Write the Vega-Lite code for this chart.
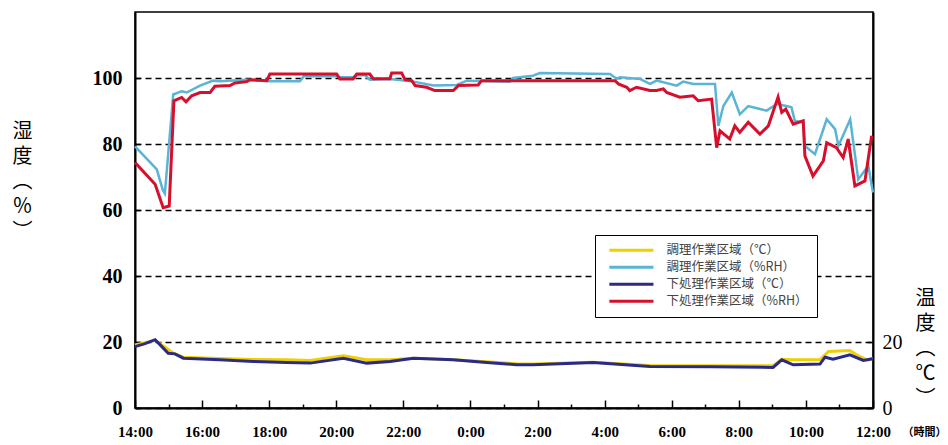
{
  "$schema": "https://vega.github.io/schema/vega-lite/v6.json",
  "width": 738,
  "height": 396,
  "autosize": {"type": "none"},
  "padding": {"left": 135, "top": 12, "right": 75, "bottom": 37},
  "background": "white",
  "config": {
    "view": {"stroke": "black", "strokeWidth": 1.5},
    "axis": {"domainColor": "black", "domainWidth": 2, "tickColor": "black", "tickWidth": 1.5, "labelColor": "black", "titleColor": "black"}
  },
  "datasets": {
    "d": [
      {"s": "調理作業区域（℃）", "h": 14.0, "v": 19.1},
      {"s": "調理作業区域（℃）", "h": 14.6, "v": 20.5},
      {"s": "調理作業区域（℃）", "h": 14.94, "v": 18.1},
      {"s": "調理作業区域（℃）", "h": 15.13, "v": 16.7},
      {"s": "調理作業区域（℃）", "h": 15.44, "v": 15.4},
      {"s": "調理作業区域（℃）", "h": 16.5, "v": 15.0},
      {"s": "調理作業区域（℃）", "h": 17.52, "v": 14.7},
      {"s": "調理作業区域（℃）", "h": 18.5, "v": 14.6},
      {"s": "調理作業区域（℃）", "h": 19.22, "v": 14.4},
      {"s": "調理作業区域（℃）", "h": 20.21, "v": 15.8},
      {"s": "調理作業区域（℃）", "h": 20.91, "v": 14.6},
      {"s": "調理作業区域（℃）", "h": 21.6, "v": 14.6},
      {"s": "調理作業区域（℃）", "h": 22.3, "v": 15.1},
      {"s": "調理作業区域（℃）", "h": 23.49, "v": 14.6},
      {"s": "調理作業区域（℃）", "h": 24.48, "v": 14.0},
      {"s": "調理作業区域（℃）", "h": 25.38, "v": 13.4},
      {"s": "調理作業区域（℃）", "h": 25.87, "v": 13.3},
      {"s": "調理作業区域（℃）", "h": 27.66, "v": 13.9},
      {"s": "調理作業区域（℃）", "h": 29.35, "v": 12.9},
      {"s": "調理作業区域（℃）", "h": 31.2, "v": 12.8},
      {"s": "調理作業区域（℃）", "h": 33.02, "v": 12.8},
      {"s": "調理作業区域（℃）", "h": 33.28, "v": 14.8},
      {"s": "調理作業区域（℃）", "h": 33.58, "v": 14.6},
      {"s": "調理作業区域（℃）", "h": 34.42, "v": 14.6},
      {"s": "調理作業区域（℃）", "h": 34.67, "v": 17.1},
      {"s": "調理作業区域（℃）", "h": 35.31, "v": 17.4},
      {"s": "調理作業区域（℃）", "h": 35.51, "v": 16.1},
      {"s": "調理作業区域（℃）", "h": 35.81, "v": 14.6},
      {"s": "調理作業区域（℃）", "h": 36.0, "v": 15.0},

      {"s": "調理作業区域（%RH）", "h": 14.0, "v": 79.3},
      {"s": "調理作業区域（%RH）", "h": 14.65, "v": 72.3},
      {"s": "調理作業区域（%RH）", "h": 14.83, "v": 66},
      {"s": "調理作業区域（%RH）", "h": 14.89, "v": 65},
      {"s": "調理作業区域（%RH）", "h": 15.14, "v": 95},
      {"s": "調理作業区域（%RH）", "h": 15.39, "v": 96},
      {"s": "調理作業区域（%RH）", "h": 15.54, "v": 95.6},
      {"s": "調理作業区域（%RH）", "h": 15.94, "v": 97.7},
      {"s": "調理作業区域（%RH）", "h": 16.33, "v": 99.2},
      {"s": "調理作業区域（%RH）", "h": 16.53, "v": 99},
      {"s": "調理作業区域（%RH）", "h": 17.33, "v": 99.5},
      {"s": "調理作業区域（%RH）", "h": 18.02, "v": 99},
      {"s": "調理作業区域（%RH）", "h": 18.92, "v": 99},
      {"s": "調理作業区域（%RH）", "h": 19.03, "v": 100.5},
      {"s": "調理作業区域（%RH）", "h": 20.01, "v": 100.5},
      {"s": "調理作業区域（%RH）", "h": 20.11, "v": 100.2},
      {"s": "調理作業区域（%RH）", "h": 20.5, "v": 100.2},
      {"s": "調理作業区域（%RH）", "h": 20.61, "v": 100.8},
      {"s": "調理作業区域（%RH）", "h": 20.86, "v": 100.8},
      {"s": "調理作業区域（%RH）", "h": 21.0, "v": 99.5},
      {"s": "調理作業区域（%RH）", "h": 21.6, "v": 99.7},
      {"s": "調理作業区域（%RH）", "h": 22.3, "v": 98.9},
      {"s": "調理作業区域（%RH）", "h": 22.9, "v": 97.7},
      {"s": "調理作業区域（%RH）", "h": 23.59, "v": 97.9},
      {"s": "調理作業区域（%RH）", "h": 23.89, "v": 99.2},
      {"s": "調理作業区域（%RH）", "h": 25.18, "v": 98.9},
      {"s": "調理作業区域（%RH）", "h": 25.27, "v": 100},
      {"s": "調理作業区域（%RH）", "h": 25.86, "v": 100.7},
      {"s": "調理作業区域（%RH）", "h": 26.07, "v": 101.5},
      {"s": "調理作業区域（%RH）", "h": 28.16, "v": 101.2},
      {"s": "調理作業区域（%RH）", "h": 28.36, "v": 99.8},
      {"s": "調理作業区域（%RH）", "h": 28.46, "v": 100.2},
      {"s": "調理作業区域（%RH）", "h": 29.05, "v": 99.7},
      {"s": "調理作業区域（%RH）", "h": 29.35, "v": 98.2},
      {"s": "調理作業区域（%RH）", "h": 29.55, "v": 99.2},
      {"s": "調理作業区域（%RH）", "h": 30.15, "v": 97.7},
      {"s": "調理作業区域（%RH）", "h": 30.34, "v": 98.9},
      {"s": "調理作業区域（%RH）", "h": 30.64, "v": 98.2},
      {"s": "調理作業区域（%RH）", "h": 31.29, "v": 98.2},
      {"s": "調理作業区域（%RH）", "h": 31.39, "v": 85.5},
      {"s": "調理作業区域（%RH）", "h": 31.54, "v": 91.5},
      {"s": "調理作業区域（%RH）", "h": 31.79, "v": 95.6},
      {"s": "調理作業区域（%RH）", "h": 32.03, "v": 89},
      {"s": "調理作業区域（%RH）", "h": 32.28, "v": 91.5},
      {"s": "調理作業区域（%RH）", "h": 32.63, "v": 90.6},
      {"s": "調理作業区域（%RH）", "h": 32.83, "v": 90.1},
      {"s": "調理作業区域（%RH）", "h": 33.13, "v": 92.1},
      {"s": "調理作業区域（%RH）", "h": 33.42, "v": 91.5},
      {"s": "調理作業区域（%RH）", "h": 33.57, "v": 91.1},
      {"s": "調理作業区域（%RH）", "h": 33.67, "v": 87},
      {"s": "調理作業区域（%RH）", "h": 33.92, "v": 86.6},
      {"s": "調理作業区域（%RH）", "h": 33.97, "v": 79.4},
      {"s": "調理作業区域（%RH）", "h": 34.27, "v": 76.9},
      {"s": "調理作業区域（%RH）", "h": 34.62, "v": 87.5},
      {"s": "調理作業区域（%RH）", "h": 34.87, "v": 84.5},
      {"s": "調理作業区域（%RH）", "h": 34.97, "v": 79.4},
      {"s": "調理作業区域（%RH）", "h": 35.32, "v": 87.5},
      {"s": "調理作業区域（%RH）", "h": 35.56, "v": 69.3},
      {"s": "調理作業区域（%RH）", "h": 35.86, "v": 73.4},
      {"s": "調理作業区域（%RH）", "h": 36.0, "v": 65.3},

      {"s": "下処理作業区域（℃）", "h": 14.0, "v": 18.6},
      {"s": "下処理作業区域（℃）", "h": 14.3, "v": 19.5},
      {"s": "下処理作業区域（℃）", "h": 14.6, "v": 20.7},
      {"s": "下処理作業区域（℃）", "h": 14.8, "v": 18.6},
      {"s": "下処理作業区域（℃）", "h": 14.99, "v": 16.6},
      {"s": "下処理作業区域（℃）", "h": 15.19, "v": 16.4},
      {"s": "下処理作業区域（℃）", "h": 15.44, "v": 15.1},
      {"s": "下処理作業区域（℃）", "h": 16.53, "v": 14.6},
      {"s": "下処理作業区域（℃）", "h": 17.53, "v": 14.1},
      {"s": "下処理作業区域（℃）", "h": 18.52, "v": 13.8},
      {"s": "下処理作業区域（℃）", "h": 19.22, "v": 13.6},
      {"s": "下処理作業区域（℃）", "h": 20.21, "v": 15.1},
      {"s": "下処理作業区域（℃）", "h": 20.91, "v": 13.6},
      {"s": "下処理作業区域（℃）", "h": 21.6, "v": 14.1},
      {"s": "下処理作業区域（℃）", "h": 22.3, "v": 15.1},
      {"s": "下処理作業区域（℃）", "h": 23.49, "v": 14.6},
      {"s": "下処理作業区域（℃）", "h": 24.48, "v": 13.8},
      {"s": "下処理作業区域（℃）", "h": 25.38, "v": 13.1},
      {"s": "下処理作業区域（℃）", "h": 25.87, "v": 13.1},
      {"s": "下処理作業区域（℃）", "h": 27.66, "v": 13.8},
      {"s": "下処理作業区域（℃）", "h": 29.35, "v": 12.6},
      {"s": "下処理作業区域（℃）", "h": 31.2, "v": 12.5},
      {"s": "下処理作業区域（℃）", "h": 33.02, "v": 12.3},
      {"s": "下処理作業区域（℃）", "h": 33.28, "v": 14.6},
      {"s": "下処理作業区域（℃）", "h": 33.62, "v": 13.1},
      {"s": "下処理作業区域（℃）", "h": 34.42, "v": 13.3},
      {"s": "下処理作業区域（℃）", "h": 34.57, "v": 15.4},
      {"s": "下処理作業区域（℃）", "h": 34.81, "v": 14.8},
      {"s": "下処理作業区域（℃）", "h": 35.31, "v": 16.1},
      {"s": "下処理作業区域（℃）", "h": 35.71, "v": 14.4},
      {"s": "下処理作業区域（℃）", "h": 36.0, "v": 14.9},

      {"s": "下処理作業区域（%RH）", "h": 14.0, "v": 74.4},
      {"s": "下処理作業区域（%RH）", "h": 14.6, "v": 67.8},
      {"s": "下処理作業区域（%RH）", "h": 14.84, "v": 60.7},
      {"s": "下処理作業区域（%RH）", "h": 15.02, "v": 61.2},
      {"s": "下処理作業区域（%RH）", "h": 15.16, "v": 93.1},
      {"s": "下処理作業区域（%RH）", "h": 15.39, "v": 94.1},
      {"s": "下処理作業区域（%RH）", "h": 15.52, "v": 92.8},
      {"s": "下処理作業区域（%RH）", "h": 15.69, "v": 94.6},
      {"s": "下処理作業区域（%RH）", "h": 15.94, "v": 95.6},
      {"s": "下処理作業区域（%RH）", "h": 16.24, "v": 95.6},
      {"s": "下処理作業区域（%RH）", "h": 16.38, "v": 97.5},
      {"s": "下処理作業区域（%RH）", "h": 16.83, "v": 97.7},
      {"s": "下処理作業区域（%RH）", "h": 16.98, "v": 98.5},
      {"s": "下処理作業区域（%RH）", "h": 17.33, "v": 98.9},
      {"s": "下処理作業区域（%RH）", "h": 17.43, "v": 99.5},
      {"s": "下処理作業区域（%RH）", "h": 17.93, "v": 99.2},
      {"s": "下処理作業区域（%RH）", "h": 18.02, "v": 101.2},
      {"s": "下処理作業区域（%RH）", "h": 20.01, "v": 101.2},
      {"s": "下処理作業区域（%RH）", "h": 20.11, "v": 99.7},
      {"s": "下処理作業区域（%RH）", "h": 20.5, "v": 99.7},
      {"s": "下処理作業区域（%RH）", "h": 20.61, "v": 101.2},
      {"s": "下処理作業区域（%RH）", "h": 21.0, "v": 101.2},
      {"s": "下処理作業区域（%RH）", "h": 21.1, "v": 99.8},
      {"s": "下処理作業区域（%RH）", "h": 21.6, "v": 99.8},
      {"s": "下処理作業区域（%RH）", "h": 21.65, "v": 101.5},
      {"s": "下処理作業区域（%RH）", "h": 21.95, "v": 101.5},
      {"s": "下処理作業区域（%RH）", "h": 22.05, "v": 99.5},
      {"s": "下処理作業区域（%RH）", "h": 22.25, "v": 99.2},
      {"s": "下処理作業区域（%RH）", "h": 22.35, "v": 97.7},
      {"s": "下処理作業区域（%RH）", "h": 22.69, "v": 97.2},
      {"s": "下処理作業区域（%RH）", "h": 22.94, "v": 96.2},
      {"s": "下処理作業区域（%RH）", "h": 23.49, "v": 96.2},
      {"s": "下処理作業区域（%RH）", "h": 23.64, "v": 97.7},
      {"s": "下処理作業区域（%RH）", "h": 24.23, "v": 97.9},
      {"s": "下処理作業区域（%RH）", "h": 24.33, "v": 99.2},
      {"s": "下処理作業区域（%RH）", "h": 28.31, "v": 99.2},
      {"s": "下処理作業区域（%RH）", "h": 28.41, "v": 98.2},
      {"s": "下処理作業区域（%RH）", "h": 28.66, "v": 97.2},
      {"s": "下処理作業区域（%RH）", "h": 28.75, "v": 96.2},
      {"s": "下処理作業区域（%RH）", "h": 28.95, "v": 97.2},
      {"s": "下処理作業区域（%RH）", "h": 29.35, "v": 96.2},
      {"s": "下処理作業区域（%RH）", "h": 29.55, "v": 96.2},
      {"s": "下処理作業区域（%RH）", "h": 29.75, "v": 96.7},
      {"s": "下処理作業区域（%RH）", "h": 29.85, "v": 95.6},
      {"s": "下処理作業区域（%RH）", "h": 30.24, "v": 94.2},
      {"s": "下処理作業区域（%RH）", "h": 30.64, "v": 94.6},
      {"s": "下処理作業区域（%RH）", "h": 30.79, "v": 93.1},
      {"s": "下処理作業区域（%RH）", "h": 31.19, "v": 93.6},
      {"s": "下処理作業区域（%RH）", "h": 31.34, "v": 78.9},
      {"s": "下処理作業区域（%RH）", "h": 31.44, "v": 84.0},
      {"s": "下処理作業区域（%RH）", "h": 31.73, "v": 81.5},
      {"s": "下処理作業区域（%RH）", "h": 31.88, "v": 85.5},
      {"s": "下処理作業区域（%RH）", "h": 32.03, "v": 83.5},
      {"s": "下処理作業区域（%RH）", "h": 32.28, "v": 86.6},
      {"s": "下処理作業区域（%RH）", "h": 32.63, "v": 83.0},
      {"s": "下処理作業区域（%RH）", "h": 32.88, "v": 85.5},
      {"s": "下処理作業区域（%RH）", "h": 33.17, "v": 94.2},
      {"s": "下処理作業区域（%RH）", "h": 33.28, "v": 89.6},
      {"s": "下処理作業区域（%RH）", "h": 33.4, "v": 90.6},
      {"s": "下処理作業区域（%RH）", "h": 33.62, "v": 86.0},
      {"s": "下処理作業区域（%RH）", "h": 33.92, "v": 87.0},
      {"s": "下処理作業区域（%RH）", "h": 33.97, "v": 76.4},
      {"s": "下処理作業区域（%RH）", "h": 34.21, "v": 70.3},
      {"s": "下処理作業区域（%RH）", "h": 34.52, "v": 74.9},
      {"s": "下処理作業区域（%RH）", "h": 34.62, "v": 80.4},
      {"s": "下処理作業区域（%RH）", "h": 34.91, "v": 78.9},
      {"s": "下処理作業区域（%RH）", "h": 35.11, "v": 75.9},
      {"s": "下処理作業区域（%RH）", "h": 35.26, "v": 81.5},
      {"s": "下処理作業区域（%RH）", "h": 35.46, "v": 67.3},
      {"s": "下処理作業区域（%RH）", "h": 35.76, "v": 68.8},
      {"s": "下処理作業区域（%RH）", "h": 35.96, "v": 82.5}
    ]
  },
  "data": {"name": "d"},
  "encoding": {
    "x": {
      "field": "h", "type": "quantitative",
      "scale": {"domain": [14, 36], "nice": false, "zero": false},
      "axis": {
        "values": [14,15,16,17,18,19,20,21,22,23,24,25,26,27,28,29,30,31,32,33,34,35,36],
        "labelExpr": "datum.value % 2 == 0 ? (datum.value % 24) + ':00' : ''",
        "tickSize": {"condition": {"test": "datum.value % 2 == 0", "value": -8}, "value": -4},
        "labelPadding": 24,
        "labelFlush": false,
        "labelOverlap": false,
        "labelBound": false,
        "labelFont": "Liberation Serif",
        "labelFontSize": 15,
        "labelFontWeight": "bold",
        "labelBaseline": "top",
        "grid": false,
        "title": "（時間）",
        "titleX": 789,
        "titleY": 24,
        "titleAlign": "center",
        "titleBaseline": "middle",
        "titleFont": "Noto Sans CJK JP",
        "titleFontSize": 11,
        "titleFontWeight": "bold"
      }
    },
    "color": {
      "field": "s", "type": "nominal",
      "scale": {
        "domain": ["調理作業区域（℃）", "調理作業区域（%RH）", "下処理作業区域（℃）", "下処理作業区域（%RH）"],
        "range": ["#eed000", "#5ab4d6", "#2a2a8a", "#d6102c"]
      },
      "legend": {
        "orient": "none", "legendX": 460, "legendY": 223,
        "title": null,
        "symbolType": "M-0.2,0H9.6", "symbolSize": 81, "symbolStrokeWidth": 3,
        "labelFont": "Noto Sans CJK JP", "labelFontSize": 12.5, "labelColor": "#444",
        "labelOffset": 50,
        "rowPadding": 4,
        "padding": 9,
        "strokeColor": "black",
        "fillColor": "white"
      }
    }
  },
  "layer": [
    {
      "encoding": {
        "y": {
          "field": "v", "type": "quantitative",
          "scale": {"domain": [0, 120], "nice": false},
          "axis": {
            "orient": "left",
            "values": [0, 20, 40, 60, 80, 100],
            "grid": true, "gridColor": "black", "gridDash": [6, 4], "gridWidth": 1.5,
            "tickSize": -5,
            "labelPadding": 18,
            "labelFont": "Liberation Serif", "labelFontSize": 20, "labelFontWeight": "bold",
            "labelFlush": false,
            "title": ["湿", "度", "︵", "％", "︶"],
            "titleAngle": 0, "titleX": -113, "titleY": 109,
            "titleAlign": "center", "titleBaseline": "top",
            "titleFont": "Noto Sans CJK JP", "titleFontSize": 20, "titleFontWeight": "normal",
            "titleLineHeight": 25
          }
        }
      },
      "layer": [
        {"transform": [{"filter": "datum.s === '調理作業区域（%RH）'"}], "mark": {"type": "line", "strokeWidth": 2.5}},
        {"transform": [{"filter": "datum.s === '下処理作業区域（%RH）'"}], "mark": {"type": "line", "strokeWidth": 3}}
      ]
    },
    {
      "encoding": {
        "y": {
          "field": "v", "type": "quantitative",
          "scale": {"domain": [0, 120], "nice": false},
          "axis": {
            "orient": "right",
            "values": [0, 20],
            "grid": false,
            "tickSize": -6,
            "labelPadding": 15,
            "labelFont": "Liberation Serif", "labelFontSize": 20, "labelFontWeight": "normal",
            "labelFlush": false,
            "title": ["温", "度", "︵", "℃", "︶"],
            "titleAngle": 0, "titleX": 52, "titleY": 276,
            "titleAlign": "center", "titleBaseline": "top",
            "titleFont": "Noto Sans CJK JP", "titleFontSize": 20, "titleFontWeight": "normal",
            "titleLineHeight": 25
          }
        }
      },
      "layer": [
        {"transform": [{"filter": "datum.s === '調理作業区域（℃）'"}], "mark": {"type": "line", "strokeWidth": 3}},
        {"transform": [{"filter": "datum.s === '下処理作業区域（℃）'"}], "mark": {"type": "line", "strokeWidth": 3}}
      ]
    }
  ],
  "resolve": {"scale": {"y": "independent"}}
}
